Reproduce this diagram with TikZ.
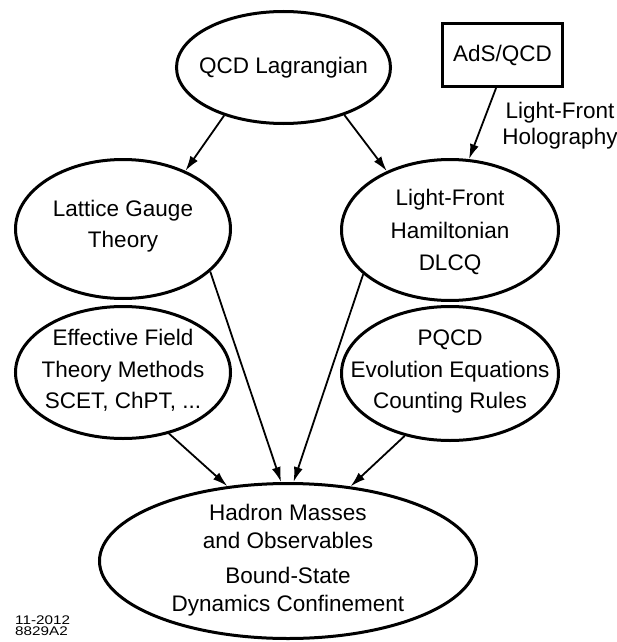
\documentclass[tikz,border=0pt]{standalone}
\usepackage{fontspec}
\setmainfont{Liberation Sans}
\usetikzlibrary{shapes.geometric,arrows.meta}
\begin{document}
\begin{tikzpicture}[x=1pt,y=-1pt,
  ell/.style={ellipse, draw, line width=3pt, inner sep=0pt},
  txt/.style={align=center, inner sep=0pt, font=\fontsize{22.5}{31.5}\selectfont},
  arr/.style={line width=1.8pt, -{Latex[length=15pt,width=9pt]}},
]
\useasboundingbox (0,0) rectangle (617,642);
% ellipses
\node[ell, minimum width=214pt, minimum height=112pt] (qcd) at (283.5,67.5) {};
\node[txt] (qcdT) at (qcd) {QCD Lagrangian};
\node[draw, line width=3pt, minimum width=120pt, minimum height=63pt, inner sep=0pt] (ads) at (502.5,55) {};
\node[txt] (adsT) at (ads) {AdS/QCD};
\node[txt, font=\fontsize{22.5}{26}\selectfont] (holo) at (560,125.5) {Light-Front\\Holography};
\node[ell, minimum width=215pt, minimum height=139pt] (lat) at (123,229) {};
\node[txt] (latT) at ([yshift=3pt]lat.center) {Lattice Gauge\\Theory};
\node[ell, minimum width=217pt, minimum height=141pt] (lfh) at (450,230) {};
\node[txt, font=\fontsize{22.5}{32.5}\selectfont] (lfhT) at ([yshift=-2pt]lfh.center) {Light-Front\\Hamiltonian\\DLCQ};
\node[ell, minimum width=215pt, minimum height=132pt] (eft) at (123,372.5) {};
\node[txt] (eftT) at ([yshift=2pt]eft.center) {Effective Field\\Theory Methods\\SCET, ChPT, ...};
\node[ell, minimum width=217pt, minimum height=134pt] (pqcd) at (450,373.5) {};
\node[txt] (pqcdT) at ([yshift=2pt]pqcd.center) {PQCD\\Evolution Equations\\Counting Rules};
\node[ell, minimum width=377pt, minimum height=155pt] (had) at (288,561) {};
\node[txt, font=\fontsize{22.5}{28}\selectfont] (hadT) at ([yshift=1pt]had.center) {Hadron Masses\\and Observables\\[7pt]Bound-State\\Dynamics Confinement};
\node[align=left, anchor=north west, inner sep=0pt, font=\fontsize{12.5}{11}\selectfont] (code) at (15,616) {\scalebox{1.22}[1]{11-2012}\\\scalebox{1.22}[1]{8829A2}};
% connectors
\draw[arr] (qcd.219) -- (lat.43);
\draw[arr] (qcd.-38) -- (lfh.137);
\draw[arr] (ads.-101) -- (lfh.75);
\draw[arr] (lat.-26) -- (had.95);
\draw[arr] (lfh.-153) -- (had.86);
\draw[arr] (eft.-53.5) -- (had.129.7);
\draw[arr] (pqcd.234.7) -- (had.50.7);
\end{tikzpicture}
\end{document}
